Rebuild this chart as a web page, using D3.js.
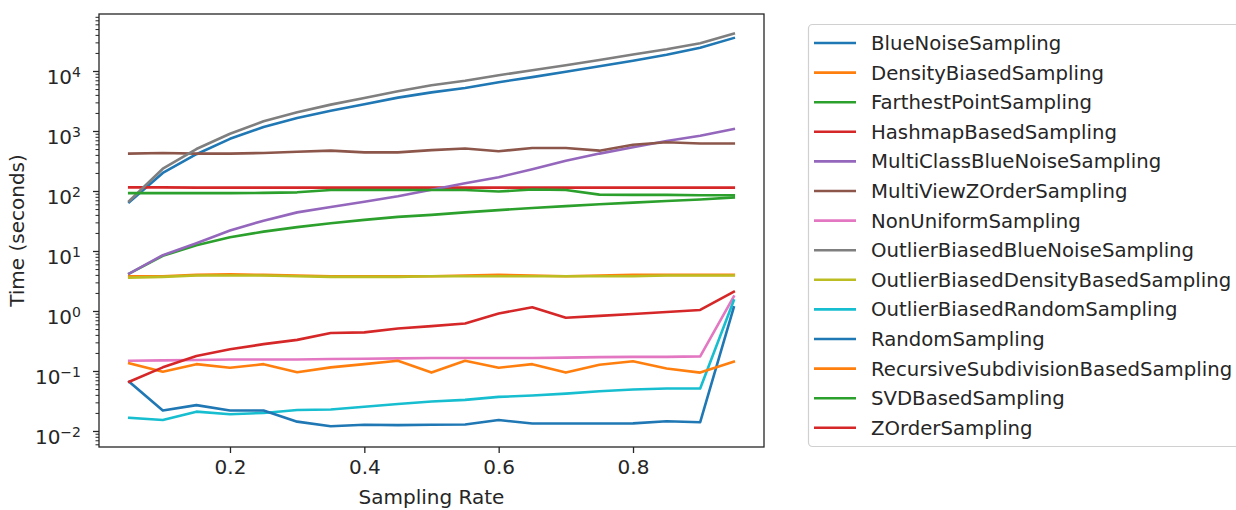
<!DOCTYPE html>
<html>
<head>
<meta charset="utf-8">
<script src="https://cdn.jsdelivr.net/npm/d3@7"></script>
<style>
  body { margin: 0; background: #fff; }
  text { font-family: "DejaVu Sans", sans-serif; fill: #262626; }
</style>
</head>
<body>
<svg width="1236" height="510"></svg>
<script>
// sampling rates on the x axis
var rates = [0.05, 0.10, 0.15, 0.20, 0.25, 0.30, 0.35, 0.40, 0.45, 0.50,
             0.55, 0.60, 0.65, 0.70, 0.75, 0.80, 0.85, 0.90, 0.95];

var methods = ["BlueNoiseSampling", "DensityBiasedSampling", "FarthestPointSampling",
  "HashmapBasedSampling", "MultiClassBlueNoiseSampling", "MultiViewZOrderSampling",
  "NonUniformSampling", "OutlierBiasedBlueNoiseSampling", "OutlierBiasedDensityBasedSampling",
  "OutlierBiasedRandomSampling", "RandomSampling", "RecursiveSubdivisionBasedSampling",
  "SVDBasedSampling", "ZOrderSampling"];

// time in seconds
var blueNoise = [65, 200, 410, 740, 1170, 1650, 2180, 2800, 3600, 4400,
                 5200, 6500, 7900, 9700, 12000, 14800, 18600, 24500, 35500];
var densityBiased = [3.8, 3.8, 4.0, 4.1, 4.0, 3.9, 3.8, 3.8, 3.8, 3.8,
                     3.9, 4.0, 3.9, 3.8, 3.9, 4.0, 4.0, 4.0, 4.0];
var farthestPoint = [4.2, 8.3, 12.5, 17, 21, 25, 29, 33, 37, 40,
                     44, 48, 52, 56, 60, 64, 68, 72, 78];
var hashmapBased = [115, 115, 114, 114, 114, 114, 114, 114, 114, 114,
                    114, 114, 114, 114, 114, 114, 114, 114, 114];
var multiClassBlueNoise = [4.2, 8.5, 13.5, 22, 32, 44, 54, 66, 82, 105,
                           135, 170, 230, 320, 420, 535, 680, 835, 1080];
var multiViewZOrder = [420, 430, 420, 420, 430, 450, 470, 440, 440, 480,
                       510, 460, 520, 520, 470, 590, 650, 620, 620];
var nonUniform = [0.148, 0.15, 0.152, 0.155, 0.155, 0.155, 0.158, 0.16, 0.162, 0.165,
                  0.165, 0.165, 0.165, 0.167, 0.17, 0.172, 0.172, 0.175, 1.75];
var outlierBlueNoise = [68, 235, 500, 900, 1450, 2050, 2750, 3550, 4600, 5800,
                        6900, 8500, 10300, 12500, 15300, 18800, 23000, 29000, 42000];
var outlierDensity = [3.6, 3.7, 3.9, 3.9, 3.9, 3.8, 3.7, 3.7, 3.7, 3.8,
                      3.8, 3.8, 3.8, 3.8, 3.8, 3.8, 3.9, 3.9, 3.9];
var outlierRandom = [0.0166, 0.0152, 0.021, 0.019, 0.02, 0.0224, 0.0228, 0.0254, 0.0282, 0.031,
                     0.033, 0.037, 0.039, 0.042, 0.046, 0.049, 0.051, 0.051, 1.5];
var randomSampling = [0.066, 0.022, 0.027, 0.022, 0.022, 0.0143, 0.012, 0.0127, 0.0125, 0.0127,
                      0.0128, 0.0152, 0.0133, 0.0133, 0.0133, 0.0134, 0.0145, 0.014, 1.15];
var recursiveSubdivision = [0.134, 0.097, 0.13, 0.113, 0.13, 0.095, 0.115, 0.13, 0.148, 0.094,
                            0.148, 0.113, 0.13, 0.094, 0.127, 0.145, 0.11, 0.094, 0.143];
var svdBased = [92, 92, 92, 92, 93, 95, 104, 104, 104, 104,
                104, 98, 106, 104, 87, 86, 86, 85, 85];
var zOrder = [0.066, 0.115, 0.178, 0.23, 0.28, 0.33, 0.43, 0.44, 0.51, 0.56,
              0.62, 0.91, 1.15, 0.77, 0.83, 0.89, 0.96, 1.04, 2.1];

var allSeries = [blueNoise, densityBiased, farthestPoint, hashmapBased, multiClassBlueNoise,
  multiViewZOrder, nonUniform, outlierBlueNoise, outlierDensity, outlierRandom,
  randomSampling, recursiveSubdivision, svdBased, zOrder];

var xTicks = [0.2, 0.4, 0.6, 0.8];
var yExponents = [-2, -1, 0, 1, 2, 3, 4];

var colors = ["#1f77b4", "#ff7f0e", "#2ca02c", "#d62728", "#9467bd", "#8c564b",
  "#e377c2", "#7f7f7f", "#bcbd22", "#17becf"];

var svg = d3.select("svg");
var plot = { left: 99, right: 764, top: 14, bottom: 447 };

var x = d3.scaleLinear().domain([0.005, 0.995]).range([plot.left, plot.right]);
var y = d3.scaleLog().domain([Math.pow(10, -2.267), Math.pow(10, 4.95)]).range([plot.bottom, plot.top]);

var line = d3.line()
  .x(function (d, i) { return x(rates[i]); })
  .y(function (d) { return y(d); });

svg.append("defs").append("clipPath").attr("id", "clip")
  .append("rect")
  .attr("x", plot.left).attr("y", plot.top)
  .attr("width", plot.right - plot.left).attr("height", plot.bottom - plot.top);

var lines = svg.append("g").attr("clip-path", "url(#clip)");
allSeries.forEach(function (s, i) {
  lines.append("path")
    .datum(s)
    .attr("d", line)
    .attr("fill", "none")
    .attr("stroke", colors[i % 10])
    .attr("stroke-width", 2.6)
    .attr("stroke-linejoin", "round")
    .attr("stroke-linecap", "square");
});

// x axis
var xAxis = svg.append("g")
  .attr("transform", "translate(0," + plot.bottom + ")")
  .call(d3.axisBottom(x).tickValues(xTicks).tickFormat(d3.format(".1f")).tickSize(6).tickSizeOuter(0).tickPadding(7));
xAxis.select(".domain").remove();
xAxis.selectAll("line").attr("stroke", "#262626").attr("stroke-width", 1.3);
xAxis.selectAll("text").attr("font-size", 20).attr("fill", "#262626");

// y axis with minor ticks
var minor = [];
for (var k = -3; k <= 5; k++) {
  for (var m = 2; m <= 9; m++) {
    var v = m * Math.pow(10, k);
    if (v > y.domain()[0] && v < y.domain()[1]) minor.push(v);
  }
}
var yMinor = svg.append("g")
  .attr("transform", "translate(" + plot.left + ",0)")
  .call(d3.axisLeft(y).tickValues(minor).tickFormat("").tickSize(3.5).tickSizeOuter(0));
yMinor.select(".domain").remove();
yMinor.selectAll("line").attr("stroke", "#262626").attr("stroke-width", 1);

var yAxis = svg.append("g")
  .attr("transform", "translate(" + plot.left + ",0)")
  .call(d3.axisLeft(y).tickValues(yExponents.map(function (e) { return Math.pow(10, e); }))
    .tickFormat("").tickSize(6).tickSizeOuter(0));
yAxis.select(".domain").remove();
yAxis.selectAll("line").attr("stroke", "#262626").attr("stroke-width", 1.3);
yAxis.selectAll(".tick").each(function (d) {
  var e = Math.round(Math.log10(d));
  var t = d3.select(this).append("text")
    .attr("x", -18).attr("y", 13)
    .attr("text-anchor", "end")
    .attr("font-size", 20)
    .attr("fill", "#262626");
  t.append("tspan").text("10");
  t.append("tspan").attr("dy", "-0.5em").attr("font-size", 14)
    .text(e < 0 ? "\u2212" + (-e) : String(e));
});

// frame
svg.append("rect")
  .attr("x", plot.left).attr("y", plot.top)
  .attr("width", plot.right - plot.left).attr("height", plot.bottom - plot.top)
  .attr("fill", "none").attr("stroke", "#262626").attr("stroke-width", 1.3);

// axis titles
svg.append("text")
  .attr("x", (plot.left + plot.right) / 2).attr("y", 504)
  .attr("text-anchor", "middle").attr("font-size", 20)
  .text("Sampling Rate");
svg.append("text")
  .attr("transform", "translate(24," + ((plot.top + plot.bottom) / 2) + ") rotate(-90)")
  .attr("text-anchor", "middle").attr("font-size", 20)
  .text("Time (seconds)");

// legend
var legend = svg.append("g");
legend.append("rect")
  .attr("x", 808.5).attr("y", 24.5)
  .attr("width", 440).attr("height", 422)
  .attr("rx", 4)
  .attr("fill", "#fff").attr("stroke", "#d0d0d0").attr("stroke-width", 1.2);
methods.forEach(function (name, i) {
  var ly = 43 + i * 29.6;
  legend.append("line")
    .attr("x1", 814).attr("x2", 856)
    .attr("y1", ly).attr("y2", ly)
    .attr("stroke", colors[i % 10]).attr("stroke-width", 2.6);
  legend.append("text")
    .attr("x", 871).attr("y", ly).attr("dy", "0.36em")
    .attr("font-size", 19.7)
    .text(name);
});
</script>
</body>
</html>
